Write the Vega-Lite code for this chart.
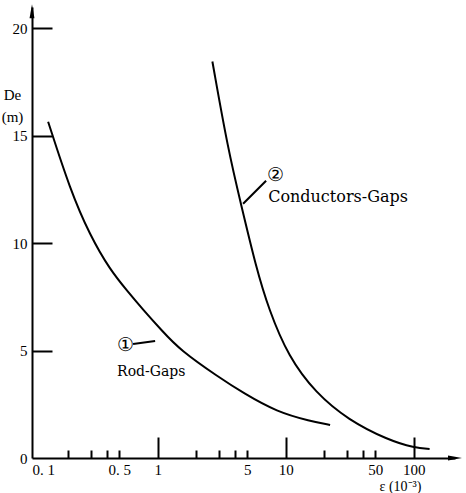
{
  "$schema": "https://vega.github.io/schema/vega-lite/v6.json",
  "width": 423,
  "height": 451,
  "autosize": {"type": "none"},
  "padding": {"left": 32, "top": 7, "right": 11, "bottom": 35},
  "background": "white",
  "config": {
    "view": {"stroke": null},
    "font": "Liberation Serif",
    "axis": {
      "domainColor": "black", "domainWidth": 2, "tickColor": "black", "tickWidth": 2,
      "labelColor": "black", "labelFont": "Liberation Serif", "labelFontSize": 15,
      "titleColor": "black", "titleFont": "Liberation Serif", "titleFontSize": 15, "titleFontWeight": "normal",
      "grid": false
    }
  },
  "datasets": {
    "curves": [
      {"series": "Rod-Gaps", "eps": 0.139, "De": 15.66},
      {"series": "Rod-Gaps", "eps": 0.2065, "De": 12.49},
      {"series": "Rod-Gaps", "eps": 0.296, "De": 10.35},
      {"series": "Rod-Gaps", "eps": 0.424, "De": 8.76},
      {"series": "Rod-Gaps", "eps": 0.575, "De": 7.79},
      {"series": "Rod-Gaps", "eps": 0.768, "De": 6.90},
      {"series": "Rod-Gaps", "eps": 1.08, "De": 5.92},
      {"series": "Rod-Gaps", "eps": 1.49, "De": 5.03},
      {"series": "Rod-Gaps", "eps": 2.96, "De": 3.78},
      {"series": "Rod-Gaps", "eps": 4.64, "De": 3.03},
      {"series": "Rod-Gaps", "eps": 8.55, "De": 2.14},
      {"series": "Rod-Gaps", "eps": 15.5, "De": 1.72},
      {"series": "Rod-Gaps", "eps": 22.2, "De": 1.54},
      {"series": "Conductors-Gaps", "eps": 2.67, "De": 18.46},
      {"series": "Conductors-Gaps", "eps": 3.54, "De": 14.36},
      {"series": "Conductors-Gaps", "eps": 4.48, "De": 11.79},
      {"series": "Conductors-Gaps", "eps": 5.85, "De": 8.90},
      {"series": "Conductors-Gaps", "eps": 7.38, "De": 6.90},
      {"series": "Conductors-Gaps", "eps": 10.5, "De": 4.71},
      {"series": "Conductors-Gaps", "eps": 17.1, "De": 3.03},
      {"series": "Conductors-Gaps", "eps": 30.8, "De": 1.77},
      {"series": "Conductors-Gaps", "eps": 62.9, "De": 0.84},
      {"series": "Conductors-Gaps", "eps": 101.8, "De": 0.47},
      {"series": "Conductors-Gaps", "eps": 133, "De": 0.42}
    ],
    "leaders": [
      {"id": "1", "eps": 0.641, "De": 5.31},
      {"id": "1", "eps": 0.953, "De": 5.45},
      {"id": "2", "eps": 4.64, "De": 11.84},
      {"id": "2", "eps": 7.02, "De": 12.91}
    ],
    "digits": [
      {"text": "①", "eps": 0.555, "De": 5.27},
      {"text": "②", "eps": 8.26, "De": 13.19}
    ],
    "notes": [
      {"text": "Rod-Gaps", "eps": 0.481, "De": 4.01}
    ],
    "notes2": [
      {"text": "Conductors-Gaps", "eps": 7.28, "De": 12.17}
    ],
    "arrows": [
      {"dir": "up", "eps": 0.104, "De": 20.8},
      {"dir": "right", "eps": 210, "De": 0}
    ]
  },
  "layer": [
    {
      "data": {"name": "curves"},
      "mark": {"type": "line", "color": "black", "strokeWidth": 2, "interpolate": "basis"},
      "encoding": {
        "x": {
          "field": "eps", "type": "quantitative",
          "scale": {"type": "log", "domain": [0.104, 210], "nice": false},
          "axis": {
            "values": [0.104, 0.2, 0.3, 0.4, 0.5, 1, 2, 3, 4, 5, 10, 20, 30, 40, 50, 100],
            "labelExpr": "datum.value==0.104?'0. 1':datum.value==0.5?'0. 5':datum.value==1?'1':datum.value==5?'5':datum.value==10?'10':datum.value==50?'50':datum.value==100?'100':''",
            "labelAlign": {"condition": {"test": "datum.value==0.104", "value": "left"}, "value": "center"},
            "labelFlush": false,
            "labelOverlap": false,
            "labelPadding": {"condition": [
              {"test": "datum.value==0.104", "value": 4},
              {"test": "datum.value==1||datum.value==10||datum.value==100", "value": 25}
            ], "value": 12},
            "tickSize": {"condition": [
              {"test": "datum.value==0.104", "value": 0},
              {"test": "datum.value==1||datum.value==10||datum.value==100", "value": -21}
            ], "value": -8},
            "title": "ε  (10⁻³)",
            "titleFontSize": 14,
            "titleX": 368,
            "titleY": 28,
            "titleAlign": "center",
            "titleBaseline": "middle"
          }
        },
        "y": {
          "field": "De", "type": "quantitative",
          "scale": {"domain": [0, 21], "nice": false},
          "axis": {
            "values": [0, 5, 10, 15, 20],
            "tickSize": {"condition": {"test": "datum.value==0", "value": 0}, "value": -20},
            "labelPadding": {"condition": {"test": "datum.value==0", "value": 5}, "value": 25},
            "title": ["De", "(m)"],
            "titleAngle": 0,
            "titleX": -20,
            "titleY": 80,
            "titleAlign": "center",
            "titleBaseline": "top",
            "titleLineHeight": 22
          }
        },
        "detail": {"field": "series"}
      }
    },
    {
      "data": {"name": "leaders"},
      "mark": {"type": "line", "color": "black", "strokeWidth": 2},
      "encoding": {
        "x": {"field": "eps", "type": "quantitative"},
        "y": {"field": "De", "type": "quantitative"},
        "detail": {"field": "id"}
      }
    },
    {
      "data": {"name": "digits"},
      "mark": {"type": "text", "align": "center", "baseline": "middle", "fontSize": 19, "font": "DejaVu Serif", "color": "black"},
      "encoding": {
        "x": {"field": "eps", "type": "quantitative"},
        "y": {"field": "De", "type": "quantitative"},
        "text": {"field": "text"}
      }
    },
    {
      "data": {"name": "notes"},
      "mark": {"type": "text", "align": "left", "baseline": "middle", "fontSize": 14, "font": "DejaVu Serif", "color": "black"},
      "encoding": {
        "x": {"field": "eps", "type": "quantitative"},
        "y": {"field": "De", "type": "quantitative"},
        "text": {"field": "text"}
      }
    },
    {
      "data": {"name": "notes2"},
      "mark": {"type": "text", "align": "left", "baseline": "middle", "fontSize": 16, "font": "DejaVu Serif", "color": "black"},
      "encoding": {
        "x": {"field": "eps", "type": "quantitative"},
        "y": {"field": "De", "type": "quantitative"},
        "text": {"field": "text"}
      }
    },
    {
      "data": {"name": "arrows"},
      "mark": {"type": "point", "filled": true, "color": "black", "opacity": 1, "size": 196, "clip": false},
      "encoding": {
        "x": {"field": "eps", "type": "quantitative"},
        "y": {"field": "De", "type": "quantitative"},
        "shape": {
          "field": "dir", "type": "nominal",
          "scale": {"domain": ["up", "right"], "range": ["M-0.35,1L0,-1L0.35,1Z", "M-1,-0.35L1,0L-1,0.35Z"]},
          "legend": null
        }
      }
    }
  ]
}
